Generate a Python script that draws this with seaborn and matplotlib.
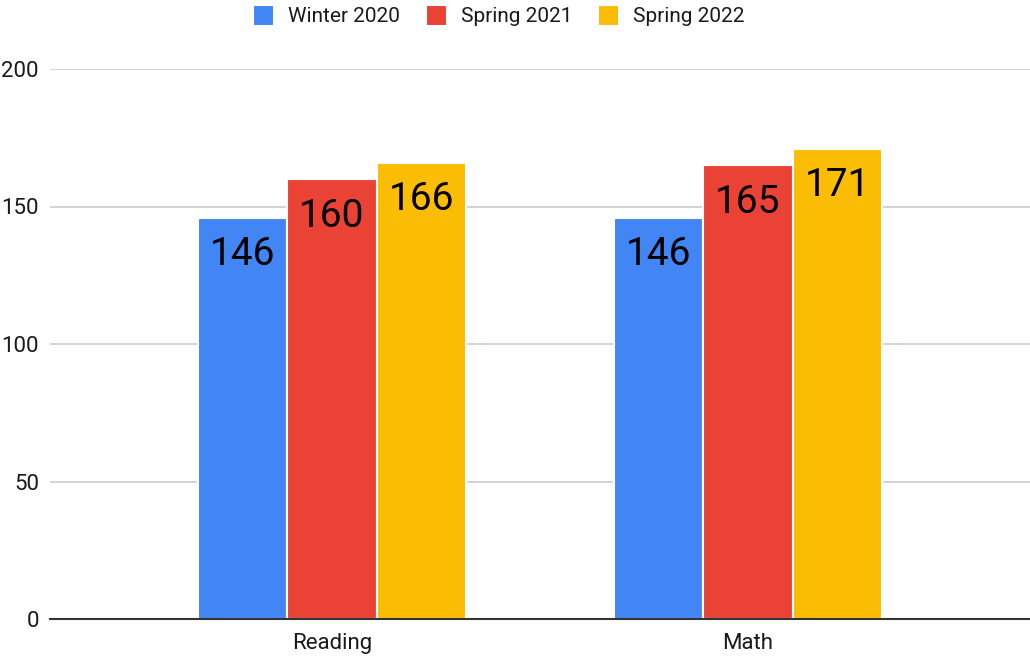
import pandas as pd
import seaborn as sns
import matplotlib.pyplot as plt

subjects = ["Reading", "Math"]
terms = ["Winter 2020", "Spring 2021", "Spring 2022"]
winter_2020 = [146, 146]
spring_2021 = [160, 165]
spring_2022 = [166, 171]

colors = ["#4285F4", "#EA4335", "#FBBC04"]

data = pd.DataFrame({
    "subject": subjects * 3,
    "term": [t for t in terms for _ in subjects],
    "score": winter_2020 + spring_2021 + spring_2022,
})

sns.set_style("white")
plt.rcParams['font.family'] = ['Roboto', 'DejaVu Sans']

fig = plt.figure(figsize=(10.3, 6.58), dpi=100)
ax = fig.add_axes([50 / 1030, 39 / 658, 980 / 1030, 550 / 658])

sns.barplot(data=data, x="subject", y="score", hue="term", order=subjects,
            hue_order=terms, palette=colors, width=0.645, ax=ax,
            edgecolor="white", linewidth=1.5, saturation=1)

# value labels sit inside the top of each bar
for container in ax.containers:
    for bar in container:
        h = bar.get_height()
        ax.text(bar.get_x() + bar.get_width() / 2, h - 13.5, f"{h:.0f}",
                ha="center", va="center", fontsize=28, color="black")

ax.set_ylim(0, 200)
ax.set_xlim(-0.678, 1.678)
ax.set_yticks([0, 50, 100, 150, 200])
ax.grid(True, axis="y", color="#cccccc", linewidth=1.2)
ax.set_axisbelow(True)
for s in ["top", "right", "left"]:
    ax.spines[s].set_visible(False)
ax.spines["bottom"].set_color("#333333")
ax.spines["bottom"].set_linewidth(1.5)
ax.set_xlabel("")
ax.set_ylabel("")
ax.tick_params(axis="y", labelsize=16, length=0, pad=8, labelcolor="#1a1a1a")
ax.tick_params(axis="x", labelsize=16, length=0, pad=10, labelcolor="#1a1a1a")

ax.legend(loc="center", bbox_to_anchor=(499 / 1030, 1 - 15.5 / 658),
          bbox_transform=fig.transFigure, ncol=3, frameon=False, fontsize=15,
          handlelength=1.0, handleheight=1.2, handletextpad=0.67,
          columnspacing=1.25, labelcolor="#1a1a1a", borderpad=0)

plt.savefig("out.png", dpi=100)
